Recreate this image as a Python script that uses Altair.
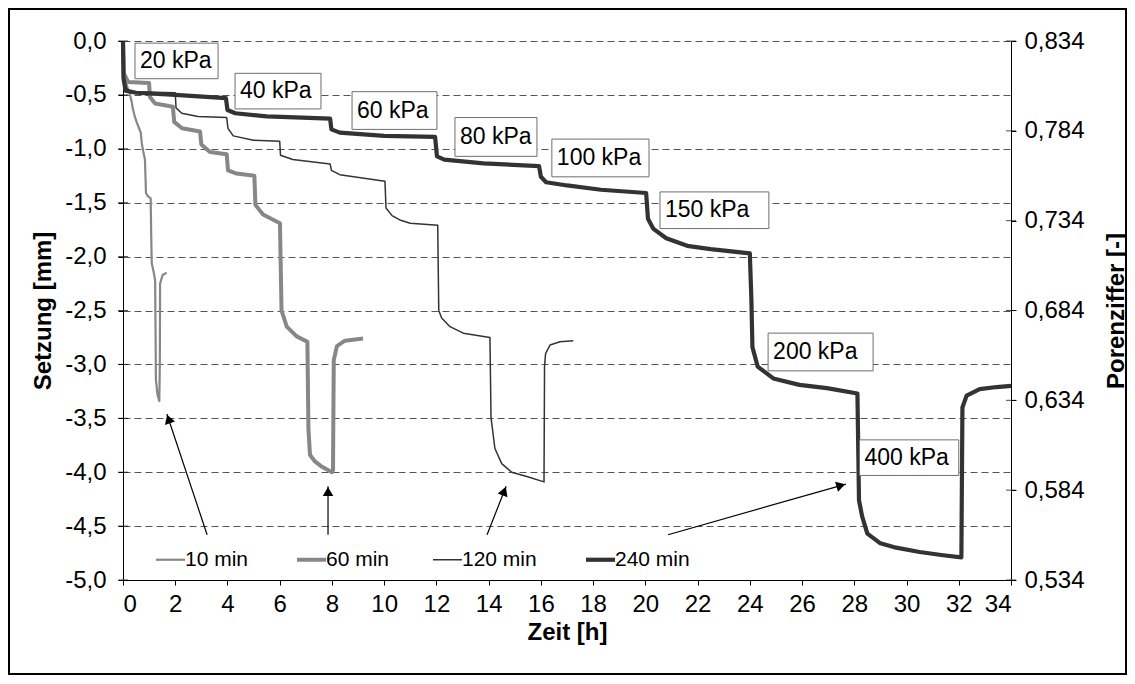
import math
import altair as alt
import pandas as pd

FONT = "Liberation Sans"
W, H = 888, 539
T_MAX = 34
S_MIN, S_MAX = -5.0, 0.0
E_BOTTOM, E_TOP = 0.534, 0.834

# ---------------- data ----------------
series_names = ["10 min", "60 min", "120 min", "240 min"]
series_colors = ["#878787", "#878787", "#333333", "#333333"]
series_widths = [2.2, 4.0, 1.5, 4.2]

t10 = [0, 0.02, 0.05, 0.12, 0.2, 0.27, 0.33, 0.37, 0.45, 0.52, 0.6, 0.68, 0.72, 0.78, 0.84, 0.86,
       0.88, 0.95, 1.06, 1.08, 1.1, 1.18, 1.23, 1.25, 1.26, 1.32, 1.39, 1.41, 1.42, 1.52, 1.67]
s10 = [0, -0.2, -0.3, -0.39, -0.45, -0.5, -0.56, -0.62, -0.7, -0.75, -0.8, -0.85, -0.95, -1.03, -1.1, -1.25,
       -1.41, -1.44, -1.46, -1.8, -2.06, -2.15, -2.22, -2.8, -3.14, -3.28, -3.34, -3.0, -2.25, -2.17, -2.15]

t60 = [0, 0.03, 0.2, 1.0, 1.03, 1.23, 1.91, 1.96, 2.26, 2.95, 3.0, 3.33, 3.97, 4.02, 4.35, 5.03, 5.07,
       5.36, 6.01, 6.07, 6.27, 6.65, 7.06, 7.1, 7.16, 7.35, 7.62, 8.0, 8.04, 8.07, 8.19, 8.5, 9.19]
s60 = [0, -0.3, -0.38, -0.39, -0.52, -0.58, -0.61, -0.75, -0.81, -0.84, -0.96, -1.03, -1.05, -1.2, -1.23,
       -1.25, -1.52, -1.61, -1.69, -2.5, -2.65, -2.74, -2.79, -3.6, -3.84, -3.9, -3.95, -4.0, -3.98, -2.96,
       -2.83, -2.78, -2.76]

t120 = [0, 0.03, 0.3, 2.0, 2.03, 2.25, 2.87, 3.97, 4.02, 4.22, 4.99, 6.0, 6.03, 6.5, 7.93, 7.98, 8.3,
        10.03, 10.07, 10.3, 10.6, 11.0, 12.05, 12.09, 12.2, 12.52, 13.03, 14.05, 14.09, 14.24, 14.5,
        14.88, 15.46, 16.12, 16.14, 16.18, 16.35, 16.73, 17.24]
s120 = [0, -0.42, -0.47, -0.48, -0.62, -0.67, -0.70, -0.71, -0.81, -0.88, -0.92, -0.93, -1.06, -1.10,
        -1.14, -1.20, -1.24, -1.30, -1.55, -1.62, -1.66, -1.69, -1.71, -2.5, -2.57, -2.65, -2.71, -2.75,
        -3.49, -3.78, -3.92, -4.0, -4.04, -4.09, -3.02, -2.9, -2.82, -2.79, -2.78]

t240 = [0, 0.02, 0.1, 0.5, 2.0, 3.94, 4.0, 4.3, 5.5, 7.93, 7.98, 8.3, 10.0, 11.95, 12.02, 12.3, 13.8,
        15.93, 16.0, 16.2, 17.0, 18.3, 20.03, 20.1, 20.3, 20.8, 21.6, 22.5, 24.0, 24.06, 24.1, 24.3,
        24.9, 25.9, 26.95, 28.12, 28.18, 28.3, 28.5, 29.0, 29.6, 30.5, 31.4, 32.1, 32.14, 32.3, 32.8,
        33.45, 34.0]
s240 = [0, -0.35, -0.46, -0.48, -0.50, -0.53, -0.64, -0.67, -0.70, -0.72, -0.82, -0.85, -0.88, -0.89,
        -1.07, -1.10, -1.135, -1.16, -1.26, -1.31, -1.34, -1.38, -1.41, -1.65, -1.74, -1.83, -1.90,
        -1.93, -1.97, -2.4, -2.84, -3.02, -3.13, -3.19, -3.22, -3.27, -4.26, -4.41, -4.57, -4.66,
        -4.70, -4.74, -4.77, -4.79, -3.40, -3.29, -3.23, -3.21, -3.20]

# load step labels (boxes)
load_labels = ["20 kPa", "40 kPa", "60 kPa", "80 kPa", "100 kPa", "150 kPa", "200 kPa", "400 kPa"]
box_t1 = [0.46, 4.29, 8.77, 12.71, 16.42, 20.56, 24.70, 28.20]
box_t2 = [3.64, 7.58, 12.02, 15.85, 20.14, 24.73, 28.72, 32.00]
box_s1 = [-0.02, -0.30, -0.47, -0.71, -0.91, -1.40, -2.71, -3.70]
box_s2 = [-0.35, -0.63, -0.82, -1.07, -1.26, -1.74, -3.06, -4.03]

# arrows from legend to the curves
arrow_t_tail = [3.22, 7.85, 13.94, 20.87]
arrow_s_tail = [-4.58, -4.58, -4.58, -4.58]
arrow_t_tip = [1.68, 7.85, 14.67, 27.68]
arrow_s_tip = [-3.46, -4.13, -4.13, -4.11]

x_ticks = list(range(0, 35, 2))
y_ticks = [-5.0, -4.5, -4.0, -3.5, -3.0, -2.5, -2.0, -1.5, -1.0, -0.5, 0.0]
e_ticks = [0.534, 0.584, 0.634, 0.684, 0.734, 0.784, 0.834]

# ---------------- tables ----------------
rows = []
for name, w, ts, ss in zip(series_names, series_widths, [t10, t60, t120, t240], [s10, s60, s120, s240]):
    assert len(ts) == len(ss), name
    for i, (t, s) in enumerate(zip(ts, ss)):
        rows.append({"series": name, "w": w, "t": t, "s": s, "order": i})
df_lines = pd.DataFrame(rows)

df_boxes = pd.DataFrame({"label": load_labels, "t": box_t1, "t2": box_t2, "s": box_s1, "s2": box_s2})
df_btext = pd.DataFrame({"label": load_labels, "t": box_t1,
                         "s": [(a + b) / 2 for a, b in zip(box_s1, box_s2)]})

df_arrows = pd.DataFrame({"t": arrow_t_tail, "s": arrow_s_tail, "t2": arrow_t_tip, "s2": arrow_s_tip})

px_h = W / T_MAX
px_mm = H / (S_MAX - S_MIN)
HEAD_SIZE = 110
r = math.sqrt(HEAD_SIZE) / 2
heads = []
for t0, s0, t1, s1 in zip(arrow_t_tail, arrow_s_tail, arrow_t_tip, arrow_s_tip):
    dx = (t1 - t0) * px_h
    dy = -(s1 - s0) * px_mm
    L = math.hypot(dx, dy)
    ux, uy = dx / L, dy / L
    ang = (math.degrees(math.atan2(dx, -dy)) + 360) % 360
    cx = t1 - ux * r / px_h
    cy = s1 + uy * r / px_mm
    heads.append({"t": cx, "s": cy, "angle": ang})
df_heads = pd.DataFrame(heads)

df_lticks = pd.DataFrame({"t": [0] * len(y_ticks), "s": y_ticks})
df_rticks = pd.DataFrame({"t": [T_MAX] * len(e_ticks), "e": e_ticks})

# ---------------- encodings ----------------
xs = alt.Scale(domain=[0, T_MAX], nice=False, zero=False)
ys = alt.Scale(domain=[S_MIN, S_MAX], nice=False, zero=False)
es = alt.Scale(domain=[E_BOTTOM, E_TOP], nice=False, zero=False)

x_axis = alt.Axis(values=x_ticks, title="Zeit [h]", format="d", tickSize=5, labelPadding=7,
                  grid=False, titleX=W / 2, titleY=52, titleAlign="center", titleBaseline="middle")
X = alt.X("t:Q", scale=xs, axis=x_axis)

y_axis = alt.Axis(values=y_ticks, title="Setzung [mm]",
                  labelExpr="(datum.value < 0 ? '-' : '') + replace(format(abs(datum.value), '.1f'), '.', ',')",
                  grid=True, gridDash=[7, 4], gridColor="#555555", gridWidth=1,
                  tickSize=5, labelPadding=12,
                  titleX=-80, titleY=H / 2, titleAngle=270, titleAlign="center", titleBaseline="middle")
Y = alt.Y("s:Q", scale=ys, axis=y_axis)

e_axis = alt.Axis(orient="right", values=e_ticks, title="Porenziffer [-]",
                  labelExpr="replace(format(datum.value, '.3f'), '.', ',')",
                  grid=False, tickSize=5, labelPadding=8,
                  titleX=105, titleY=H / 2, titleAngle=270, titleAlign="center", titleBaseline="middle")
YE = alt.Y("e:Q", scale=es, axis=e_axis)

width_expr = " : ".join(f"datum.value === '{n}' ? {w}" for n, w in zip(series_names, series_widths)) + " : 2"

leg = alt.Legend(title=None, orient="none", legendX=37, legendY=508, direction="horizontal",
                 symbolType="stroke", symbolSize=841, labelFontSize=21, labelFont=FONT,
                 labelColor="black", gridAlign="each", columnPadding=40, labelOffset=4,
                 symbolStrokeWidth={"expr": width_expr})

lines = alt.Chart(df_lines).mark_line(strokeJoin="round").encode(
    x=X, y=Y,
    color=alt.Color("series:N", scale=alt.Scale(domain=series_names, range=series_colors), legend=leg),
    strokeWidth=alt.StrokeWidth("w:Q", scale=None),
    order=alt.Order("order:Q"),
)

boxes = alt.Chart(df_boxes).mark_rect(fill="white", stroke="#6e6e6e", strokeWidth=1).encode(
    x=X, x2=alt.X2("t2:Q"), y=Y, y2=alt.Y2("s2:Q")
)
btext = alt.Chart(df_btext).mark_text(align="left", baseline="middle", dx=5, fontSize=23,
                                      font=FONT, color="black").encode(x=X, y=Y, text="label:N")

arrows = alt.Chart(df_arrows).mark_rule(color="black", strokeWidth=1.2).encode(
    x=X, x2=alt.X2("t2:Q"), y=Y, y2=alt.Y2("s2:Q")
)
arrow_heads = alt.Chart(df_heads).mark_point(shape="triangle-up", filled=True, size=HEAD_SIZE,
                                             color="black", opacity=1).encode(
    x=X, y=Y, angle=alt.Angle("angle:Q", scale=None)
)

lticks = alt.Chart(df_lticks).mark_tick(orient="horizontal", size=10, thickness=1, color="black").encode(x=X, y=Y)
rticks = alt.Chart(df_rticks).mark_tick(orient="horizontal", size=10, thickness=1, color="black").encode(x=X, y=YE)

PAD_L, PAD_T, PAD_R, PAD_B = 115, 33, 116, 95
frame = alt.Chart(pd.DataFrame({"k": [0]})).mark_rect(fillOpacity=0, stroke="black", strokeWidth=2).encode(
    x=alt.value(-PAD_L + 1), x2=alt.value(W + PAD_R - 1),
    y=alt.value(-PAD_T + 1), y2=alt.value(H + PAD_B - 1),
)

left = alt.layer(lines, boxes, btext, arrows, arrow_heads, lticks, frame)
right = alt.layer(rticks)

chart = alt.layer(left, right).resolve_scale(y="independent").properties(
    width=W, height=H,
    autosize=alt.AutoSizeParams(type="none"),
    padding={"left": PAD_L, "top": PAD_T, "right": PAD_R, "bottom": PAD_B},
).configure_view(stroke=None).configure_axis(
    domainColor="black", domainWidth=1, tickColor="black", tickWidth=1,
    labelColor="black", titleColor="black",
    labelFont=FONT, titleFont=FONT, labelFontSize=24, titleFontSize=24, titleFontWeight="bold",
).configure_legend(padding=0)

chart.save("out.html", embed_options={"renderer": "svg", "actions": False})
